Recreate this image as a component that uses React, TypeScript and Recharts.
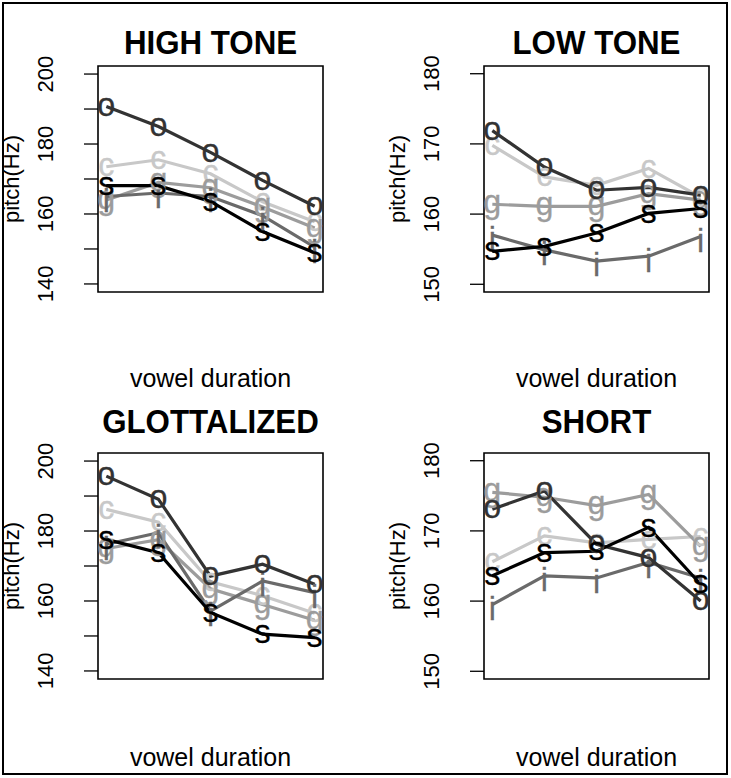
import React from "react";
import { LineChart, Line, XAxis, YAxis, ReferenceArea } from "recharts";

// five points along the vowel, one value per series
const steps = [1, 2, 3, 4, 5];
const seriesKeys = ["c", "g", "i", "o", "s"];
const seriesColors: Record<string, string> = {
  c: "#c8c8c8",
  g: "#9c9c9c",
  i: "#6a6a6a",
  o: "#333333",
  s: "#000000",
};

const highO = [190.7, 185.0, 177.6, 169.6, 162.2];
const highC = [173.5, 175.5, 171.5, 163.5, 157.8];
const highG = [164.0, 169.0, 167.5, 162.0, 156.0];
const highI = [165.0, 166.0, 165.0, 159.5, 150.5];
const highS = [168.1, 168.1, 163.6, 155.0, 148.9];

const lowO = [171.9, 166.7, 163.4, 163.8, 162.7];
const lowC = [169.8, 165.3, 164.1, 166.5, 162.4];
const lowG = [161.4, 161.1, 161.1, 162.9, 162.0];
const lowI = [157.0, 154.9, 153.3, 154.0, 156.8];
const lowS = [154.7, 155.4, 157.3, 160.1, 160.8];

const glotO = [195.7, 189.1, 167.1, 170.5, 164.8];
const glotC = [186.2, 182.5, 165.5, 161.5, 156.5];
const glotG = [175.0, 177.5, 163.5, 159.0, 154.5];
const glotI = [176.2, 179.5, 157.1, 165.7, 162.4];
const glotS = [177.6, 173.8, 156.7, 150.5, 149.5];

const shortO = [173.1, 175.7, 168.1, 166.2, 160.0];
const shortC = [165.6, 169.3, 168.3, 168.8, 169.2];
const shortG = [175.5, 174.8, 173.6, 175.2, 167.8];
const shortI = [159.5, 163.6, 163.3, 165.5, 163.3];
const shortS = [163.6, 166.9, 167.1, 170.5, 162.4];

const wideTicks = [140, 150, 160, 170, 180, 190, 200];
const wideLabels = [140, 160, 180, 200];
const narrowTicks = [150, 160, 170, 180];
const narrowLabels = [150, 160, 170, 180];

const font = "'Liberation Sans', Arial, Helvetica, sans-serif";

function rows(o: number[], c: number[], g: number[], i: number[], s: number[]) {
  return steps.map((x, k) => ({ x, o: o[k], c: c[k], g: g[k], i: i[k], s: s[k] }));
}

// how far the baseline sits below the point, so the glyph looks centred like R's pch
const glyphShift: Record<string, number> = { c: 0.27, g: 0.26, i: 0.45, o: 0.27, s: 0.27 };

function Glyph(props: any, key: string) {
  const { cx, cy, index } = props;
  if (cx == null || cy == null) return <g key={`${key}-${index}`} />;
  return (
    <text
      key={`${key}-${index}`}
      transform={`translate(${cx},${cy}) scale(0.95,1)`}
      x={0}
      y={0}
      dy={`${glyphShift[key]}em`}
      textAnchor="middle"
      fontSize={34}
      fontFamily={font}
      fill={seriesColors[key]}
      stroke={seriesColors[key]}
      strokeWidth={0.25}
    >
      {key}
    </text>
  );
}

function Panel({
  title,
  left,
  top,
  titleY,
  xlabY,
  data,
  domain,
  ticks,
  labels,
}: {
  title: string;
  left: number;
  top: number;
  titleY: number;
  xlabY: number;
  data: any[];
  domain: [number, number];
  ticks: number[];
  labels: number[];
}) {
  const boxW = 225;
  const boxH = 226;
  const axisW = 100;
  const pad = 24;

  const renderTick = (p: any) => {
    const { x, y, payload } = p;
    if (!labels.includes(payload.value)) return <g />;
    return (
      <text
        transform={`translate(${x - 31},${y}) rotate(-90)`}
        textAnchor="middle"
        fontSize={22}
        fontFamily={font}
        fill="#000"
      >
        {payload.value}
      </text>
    );
  };

  return (
    <>
      <div
        style={{
          position: "absolute",
          left: left - 40,
          width: boxW + 80,
          top: titleY - 20,
          textAlign: "center",
          fontFamily: font,
          fontWeight: "bold",
          fontSize: 34,
          lineHeight: "40px",
          transform: "scaleX(0.92)",
        }}
      >
        {title}
      </div>
      <div
        style={{
          position: "absolute",
          left: left - 136,
          top: top + boxH / 2 - 12,
          width: 100,
          height: 24,
          textAlign: "center",
          fontFamily: font,
          fontSize: 22,
          lineHeight: "24px",
          transform: "rotate(-90deg)",
        }}
      >
        pitch(Hz)
      </div>
      <div
        style={{
          position: "absolute",
          left: left - 40,
          width: boxW + 80,
          top: xlabY - 15,
          textAlign: "center",
          fontFamily: font,
          fontSize: 25,
          lineHeight: "30px",
        }}
      >
        vowel duration
      </div>
      <div style={{ position: "absolute", left: left - axisW, top: top - pad }}>
        <LineChart
          width={axisW + boxW + pad}
          height={boxH + pad * 2}
          data={data}
          margin={{ top: pad, right: pad, bottom: pad, left: 0 }}
        >
          <XAxis dataKey="x" type="number" domain={[0.84, 5.16]} hide />
          <YAxis
            type="number"
            domain={domain}
            ticks={ticks}
            width={axisW}
            tickSize={14}
            tickMargin={0}
            axisLine={false}
            tickLine={{ stroke: "#000", strokeWidth: 1.3 }}
            tick={renderTick}
            allowDataOverflow
          />
          <ReferenceArea
            x1={0.84}
            x2={5.16}
            y1={domain[0]}
            y2={domain[1]}
            fill="none"
            stroke="#000"
            strokeWidth={1.6}
            ifOverflow="visible"
          />
          {seriesKeys.map((k) => (
            <Line
              key={k}
              dataKey={k}
              type="linear"
              stroke={seriesColors[k]}
              strokeWidth={3.2}
              dot={(p: any) => Glyph(p, k)}
              activeDot={false}
              isAnimationActive={false}
            />
          ))}
        </LineChart>
      </div>
    </>
  );
}

export default function App() {
  return (
    <div style={{ position: "relative", width: 731, height: 778, background: "#fff" }}>
      <style>{"body{margin:0}"}</style>
      <div
        style={{
          position: "absolute",
          left: 2,
          top: 2,
          width: 726,
          height: 773,
          border: "2px solid #000",
          boxSizing: "border-box",
        }}
      />
      <Panel
        title="HIGH TONE"
        left={98}
        top={66}
        titleY={42}
        xlabY={378}
        data={rows(highO, highC, highG, highI, highS)}
        domain={[137.7, 202.3]}
        ticks={wideTicks}
        labels={wideLabels}
      />
      <Panel
        title="LOW TONE"
        left={484}
        top={66}
        titleY={42}
        xlabY={378}
        data={rows(lowO, lowC, lowG, lowI, lowS)}
        domain={[148.9, 181.1]}
        ticks={narrowTicks}
        labels={narrowLabels}
      />
      <Panel
        title="GLOTTALIZED"
        left={98}
        top={453}
        titleY={421}
        xlabY={757}
        data={rows(glotO, glotC, glotG, glotI, glotS)}
        domain={[137.7, 202.3]}
        ticks={wideTicks}
        labels={wideLabels}
      />
      <Panel
        title="SHORT"
        left={484}
        top={453}
        titleY={421}
        xlabY={757}
        data={rows(shortO, shortC, shortG, shortI, shortS)}
        domain={[148.9, 181.1]}
        ticks={narrowTicks}
        labels={narrowLabels}
      />
    </div>
  );
}
